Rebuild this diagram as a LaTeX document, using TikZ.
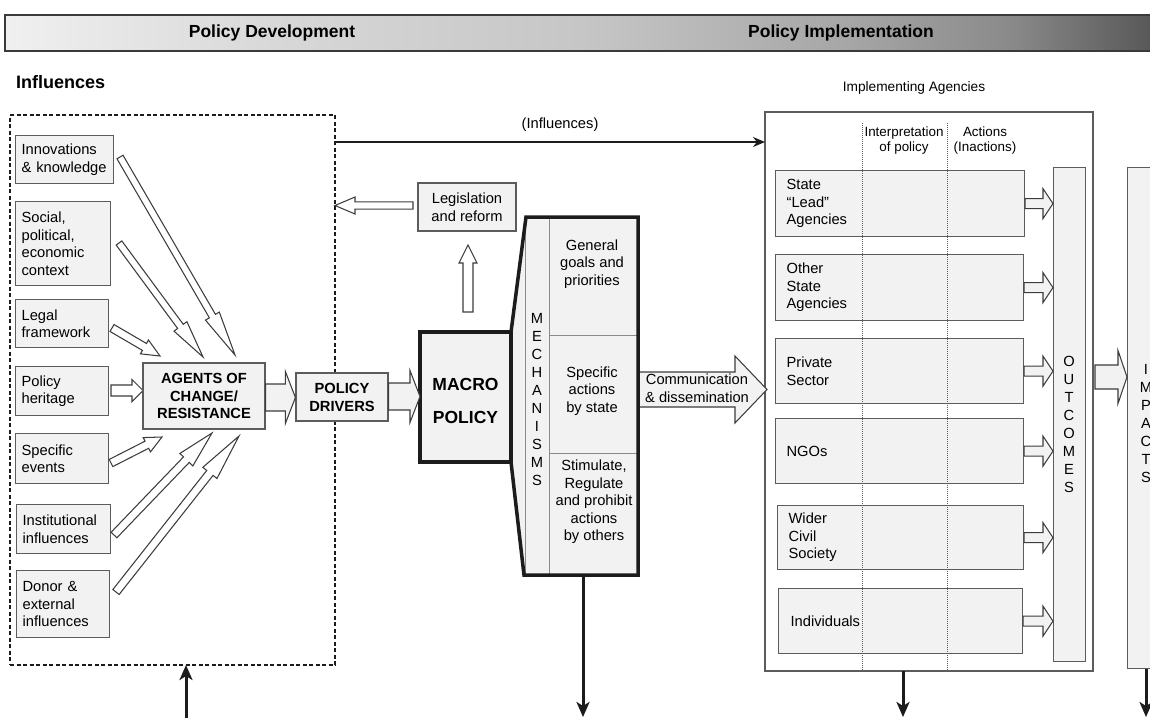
\documentclass[tikz,border=0pt]{standalone}
\usepackage{fontspec}
\setmainfont{Liberation Sans}
\usetikzlibrary{calc,arrows.meta}

\definecolor{boxfill}{HTML}{F2F2F2}
\definecolor{boxline}{HTML}{5C5C5C}
\definecolor{ink}{HTML}{1C1C1C}
\definecolor{arrline}{HTML}{3C3C3C}
\definecolor{thinline}{HTML}{8A8A8A}
\definecolor{hdrA}{HTML}{F0F0F0}
\definecolor{hdrB}{HTML}{D8D8D8}
\definecolor{hdrC}{HTML}{C6C6C6}
\definecolor{hdrD}{HTML}{A6A6A6}
\definecolor{hdrE}{HTML}{8A8A8A}
\definecolor{hdrF}{HTML}{555555}
\definecolor{hdrline}{HTML}{3A3A3A}

\pgfdeclarehorizontalshading{headerbar}{100bp}{color(0bp)=(hdrA); color(25bp)=(hdrA); color(36.6bp)=(hdrB); color(50bp)=(hdrC); color(61.5bp)=(hdrD); color(68.5bp)=(hdrE); color(75bp)=(hdrF); color(100bp)=(hdrF)}

% block arrow: [style]{tail}{tip}{shaft half width}{head half width}{head length}
\newcommand{\blockarrow}[6][]{%
  \coordinate (bahead) at ($(#3)!#6!(#2)$);
  \draw[blockarr,#1] ($(#2)!#4!90:(#3)$) -- ($(bahead)!#4!-90:(#2)$) -- ($(bahead)!#5!-90:(#2)$) -- (#3)
     -- ($(bahead)!#5!90:(#2)$) -- ($(bahead)!#4!90:(#2)$) -- ($(#2)!#4!-90:(#3)$) -- cycle;
}

\begin{document}
\begin{tikzpicture}[x=1pt, y=-1pt, font=\fontsize{14.7pt}{17.5pt}\selectfont,
  box/.style={draw=boxline, fill=boxfill, line width=1.2pt},
  lbox/.style={box, anchor=north west, align=left, inner xsep=6pt, inner ysep=0pt},
  rowbox/.style={box, anchor=north west, align=left, inner xsep=11pt, inner ysep=0pt},
  cbox/.style={box, align=center, inner sep=0pt},
  cell/.style={draw=thinline, line width=0.8pt, anchor=north west, inner sep=0pt},
  blockarr/.style={draw=arrline, line width=1.05pt, fill=white, line join=miter},
  bigarrow/.style={draw=ink, line width=3pt, -{Stealth[length=15pt,width=13pt,inset=4pt]}},
  lbl/.style={inner sep=0pt},
  stack/.style={inner sep=0pt, align=center, font=\fontsize{14.7pt}{18pt}\selectfont},
  headfont/.style={font=\bfseries\fontsize{17.5pt}{20pt}\selectfont},
  colhead/.style={inner sep=0pt, align=center, font=\fontsize{13.4pt}{15pt}\selectfont},
  dotline/.style={boxline, line width=1pt, dash pattern=on 1pt off 1pt}
]
\useasboundingbox (0,0) rectangle (1150,718);
\clip (0,0) rectangle (1150,718);
\fill[white] (0,0) rectangle (1150,718);

% header bar
\shadedraw[shading=headerbar, draw=hdrline, line width=1.5pt] (5,15) rectangle (1160,51);
\node[lbl, headfont] (hdev) at (272,33) {Policy Development};
\node[lbl, headfont] (himp) at (841,33) {Policy Implementation};

\node[lbl, anchor=west, font=\bfseries\fontsize{18pt}{21pt}\selectfont] (inflhdr) at (16,82) {Influences};
\node[lbl, font=\fontsize{13.7pt}{16pt}\selectfont] (implhdr) at (914,88) {Implementing Agencies};

% influences frame
\node[draw=ink, line width=1.1pt, dash pattern=on 4pt off 2.5pt, minimum width=325pt, minimum height=550pt,
      anchor=north west, inner sep=0pt, outer sep=0pt] (inflbox) at (10,115) {};

% influence boxes
\node[lbox, minimum height=48pt, text width=86pt] (innov) at (15,135) {Innovations\\\& knowledge};
\node[lbox, minimum height=84pt, text width=83pt] (social) at (15,201) {Social,\\political,\\economic\\context};
\node[lbox, minimum height=48pt, text width=81pt] (legal) at (15,299) {Legal\\framework};
\node[lbox, minimum height=49pt, text width=81pt] (herit) at (15,366) {Policy\\heritage};
\node[lbox, minimum height=50pt, text width=81pt] (events) at (15,433) {Specific\\events};
\node[lbox, minimum height=49pt, text width=82pt] (instit) at (16,504) {Institutional\\influences};
\node[lbox, minimum height=67pt, text width=81pt] (donor) at (16,570) {Donor \&\\external\\influences};

% arrows towards the agents
\coordinate (a1t) at (120,157); \coordinate (a1h) at (235,355);
\coordinate (a2t) at (119,243); \coordinate (a2h) at (203,357);
\coordinate (a3t) at (112,328); \coordinate (a3h) at (160,356);
\coordinate (a4t) at (111,390.5); \coordinate (a4h) at (143,390.5);
\coordinate (a5t) at (111,463); \coordinate (a5h) at (162,437);
\coordinate (a6t) at (114,535); \coordinate (a6h) at (212,433);
\coordinate (a7t) at (116,592); \coordinate (a7h) at (239,436);
\blockarrow{a1t}{a1h}{3.5pt}{8pt}{45pt}
\blockarrow{a2t}{a2h}{3.5pt}{8pt}{38pt}
\blockarrow{a3t}{a3h}{4pt}{8pt}{18pt}
\blockarrow{a4t}{a4h}{5.5pt}{11pt}{11pt}
\blockarrow{a5t}{a5h}{4pt}{8pt}{17pt}
\blockarrow{a6t}{a6h}{4pt}{9pt}{37pt}
\blockarrow{a7t}{a7h}{4pt}{9pt}{47pt}

% agents and drivers
\node[cbox, minimum width=122pt, minimum height=66pt, font=\bfseries\fontsize{14.7pt}{17.5pt}\selectfont] (agents) at (204,396) {AGENTS OF\\CHANGE/\\RESISTANCE};
\node[cbox, minimum width=92pt, minimum height=48pt, font=\bfseries\fontsize{14.7pt}{18pt}\selectfont] (drivers) at (342,397) {POLICY\\DRIVERS};
\coordinate (adt) at (agents.east |- 0,397.5);
\coordinate (adh) at (drivers.west |- 0,397.5);
\blockarrow[fill=boxfill]{adt}{adh}{13.5pt}{26pt}{10pt}

% legislation and reform
\node[cbox, minimum width=98pt, minimum height=48pt] (legis) at (467,207) {Legislation\\and reform};
\coordinate (lgt) at (413,205.5); \coordinate (lgh) at (inflbox.east |- lgt);
\blockarrow{lgt}{lgh}{3.6pt}{8.5pt}{20pt}
\coordinate (upt) at (468,312); \coordinate (uph) at (468,245);
\blockarrow{upt}{uph}{5pt}{9pt}{18pt}

% implementing agencies
\node[draw=boxline, fill=white, line width=1.3pt, minimum width=328pt, minimum height=559pt,
      anchor=north west, inner sep=0pt, outer sep=0pt] (agencies) at (765,112) {};
\node[rowbox, minimum height=66pt, text width=227pt] (rlead) at (775,170) {State\\``Lead''\\Agencies};
\node[rowbox, minimum height=66pt, text width=226pt] (rother) at (775,254) {Other\\State\\Agencies};
\node[rowbox, minimum height=65pt, text width=226pt] (rprivate) at (775,338) {Private\\Sector};
\node[rowbox, minimum height=65pt, text width=226pt] (rngo) at (775,418) {NGOs};
\node[rowbox, minimum height=64pt, text width=224pt] (rwider) at (777,505) {Wider\\Civil\\Society};
\node[rowbox, minimum height=65pt, text width=220pt, inner xsep=12pt] (rindiv) at (778,588) {Individuals};

\coordinate (dot1) at (862,123); \coordinate (dot2) at (947,123);
\draw[dotline] (dot1) -- (dot1 |- agencies.south);
\draw[dotline] (dot2) -- (dot2 |- agencies.south);
\node[colhead] (interp) at (904,141) {Interpretation\\of policy};
\node[colhead] (actions) at (985,141) {Actions\\(Inactions)};

% outcomes and impacts
\node[box, anchor=north west, minimum width=32pt, minimum height=494pt, inner sep=0pt] (outcomes) at (1053,167) {};
\node[stack] (toutc) at (1069,424) {O\\U\\T\\C\\O\\M\\E\\S};
\foreach \r in {rlead,rother,rprivate,rngo,rwider,rindiv} {
  \coordinate (\r-t) at (\r.east);
  \coordinate (\r-h) at (\r.east -| outcomes.west);
  \blockarrow[fill=boxfill]{\r-t}{\r-h}{5pt}{15pt}{10pt}
}
\node[box, anchor=north west, minimum width=45pt, minimum height=501pt, inner sep=0pt] (impacts) at (1127,167) {};
\node[stack] (timp) at (1146,424) {I\\M\\P\\A\\C\\T\\S};
\coordinate (oit) at (1095,377); \coordinate (oih) at (impacts.west |- oit);
\blockarrow[fill=boxfill]{oit}{oih}{12pt}{26.5pt}{9pt}

% communication arrow
\coordinate (comt) at (639,389.5); \coordinate (comh) at (767,389.5);
\blockarrow[fill=boxfill]{comt}{comh}{17.5pt}{33.5pt}{32pt}
\node[lbl, align=center] (tcomm) at (697,388) {Communication\\\& dissemination};

% macro policy and mechanisms
\node[draw=ink, fill=boxfill, line width=3.5pt, minimum width=91pt, minimum height=130pt, outer sep=0pt, inner sep=0pt] (macro) at (465.5,397) {};
\node[lbl, align=center, font=\bfseries\fontsize{17.5pt}{21pt}\selectfont] (tmacro) at (465.5,401) {MACRO\\[12pt]POLICY};
\coordinate (mechTL) at (526,217); \coordinate (mechTR) at (638,217);
\coordinate (mechBR) at (638,575); \coordinate (mechBL) at (524,575);
\fill[boxfill] (macro.north east) -- (mechTL) -- (mechTR) -- (mechBR) -- (mechBL) -- (macro.south east) -- cycle;
\node[cell, minimum width=24pt, minimum height=358pt] (mechcol) at (525,217) {};
\node[cell, minimum width=89pt, minimum height=118pt] (cgoals) at (549,217) {};
\node[cell, minimum width=89pt, minimum height=118pt] (cstate) at (549,335) {};
\node[cell, minimum width=89pt, minimum height=122pt] (cothers) at (549,453) {};
\node[stack] (tmech) at (537,400) {M\\E\\C\\H\\A\\N\\I\\S\\M\\S};
\node[lbl, align=center] (tgoals) at (592,264) {General\\goals and\\priorities};
\node[lbl, align=center] (tstate) at (592,391) {Specific\\actions\\by state};
\node[lbl, align=center] (tothers) at (594,502) {Stimulate,\\Regulate\\and prohibit\\actions\\by others};
\draw[ink, line width=3.5pt, line join=miter] (macro.south west) -- (macro.north west) -- (macro.north east) -- (mechTL) -- (mechTR)
   -- (mechBR) -- (mechBL) -- (macro.south east) -- cycle;
\draw[ink, line width=3.5pt] (macro.north east) -- (macro.south east);

% arrow from drivers to macro policy
\coordinate (dmt) at (drivers.east |- 0,396.5);
\coordinate (dmh) at (macro.west |- 0,396.5);
\blockarrow[fill=boxfill]{dmt}{dmh}{13.5pt}{26pt}{10pt}

% influences on implementation
\coordinate (inft) at (inflbox.east |- 0,142);
\coordinate (infh) at (agencies.west |- inft);
\draw[ink, line width=2.8pt, -{Stealth[length=12pt,width=10pt]}] (inft) -- (infh);
\node[lbl] (tinfl) at (560,125) {(Influences)};

% links leaving the diagram
\coordinate (b1) at (186,718);
\draw[bigarrow] (b1) -- (b1 |- inflbox.south);
\coordinate (mechout) at (583,575); \coordinate (mechend) at (583,717);
\draw[bigarrow] (mechout) -- (mechend);
\coordinate (agend) at (903,717);
\draw[bigarrow] (agend |- agencies.south) -- (agend);
\coordinate (impend) at (1146,717);
\draw[bigarrow] (impend |- impacts.south) -- (impend);
\end{tikzpicture}
\end{document}
